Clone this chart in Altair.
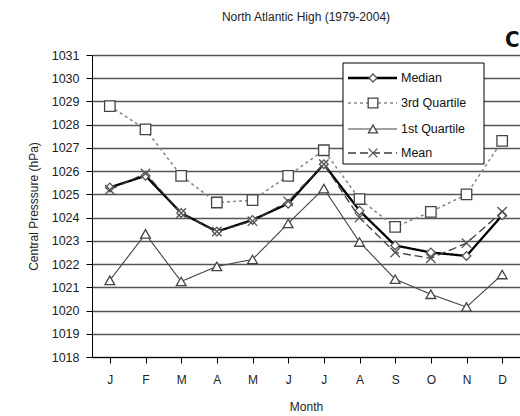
import altair as alt
import pandas as pd

months = ["J", "F", "M", "A", "M", "J", "J", "A", "S", "O", "N", "D"]
median = [1025.3, 1025.8, 1024.2, 1023.4, 1023.9, 1024.6, 1026.3, 1024.3, 1022.8, 1022.5, 1022.35, 1024.1]
q3 = [1028.8, 1027.8, 1025.8, 1024.65, 1024.75, 1025.8, 1026.9, 1024.8, 1023.6, 1024.25, 1025.0, 1027.3]
q1 = [1021.3, 1023.3, 1021.25, 1021.9, 1022.2, 1023.75, 1025.25, 1022.95, 1021.35, 1020.7, 1020.15, 1021.55]
mean = [1025.2, 1025.9, 1024.2, 1023.4, 1023.85, 1024.7, 1026.3, 1024.0, 1022.5, 1022.25, 1022.9, 1024.25]
series_names = ["Median", "3rd Quartile", "1st Quartile", "Mean"]
y_ticks = list(range(1018, 1032))
title_text = "North Atlantic High (1979-2004)"
panel_letter = "C"

FONT = "Liberation Sans"
W, H = 428, 302
XSHAPE = "M-1,-1L1,1M1,-1L-1,1"

styles = {
    "Median": dict(color="#000000", width=2.3, dash=[1, 0], shape="diamond", size=75, fill="white", mcolor="#555555"),
    "3rd Quartile": dict(color="#8a8a8a", width=1.6, dash=[3, 3], shape="square", size=110, fill="white", mcolor="#444444"),
    "1st Quartile": dict(color="#444444", width=1.1, dash=[1, 0], shape="triangle-up", size=95, fill="white", mcolor="#444444"),
    "Mean": dict(color="#3a3a3a", width=1.3, dash=[8, 4], shape=XSHAPE, size=90, fill="transparent", mcolor="#555555"),
}

rows = []
for name, vals in zip(series_names, [median, q3, q1, mean]):
    for i, v in enumerate(vals):
        rows.append({"m": i, "series": name, "value": v})
df = pd.DataFrame(rows)

label_arr = "[" + ",".join("'%s'" % m for m in months) + "]"
x_enc = alt.X(
    "m:O",
    scale=alt.Scale(paddingInner=0, paddingOuter=0),
    axis=alt.Axis(
        title="Month", bandPosition=0, labelAngle=0,
        labelExpr=label_arr + "[datum.value]", tickSize=6, tickColor="#000",
        domainColor="#000", grid=False, labelPadding=11, labelFontSize=12,
        labelColor="#222", labelFont=FONT, titleFont=FONT, titleFontSize=12,
        titleFontWeight="normal", titleColor="#222", titlePadding=16,
    ),
)
y_enc = alt.Y(
    "value:Q",
    scale=alt.Scale(domain=[1018, 1031], nice=False, zero=False),
    axis=alt.Axis(
        title="Central Presssure (hPa)", values=y_ticks, format="d", grid=True,
        gridColor="#555555", gridWidth=1.5, tickSize=6, tickColor="#000",
        domainColor="#000", labelPadding=7, labelFontSize=12.5, labelColor="#222",
        labelFont=FONT, titleFont=FONT, titleFontSize=12, titleFontWeight="normal",
        titleColor="#222", titlePadding=11,
    ),
)

layers = []
for name in series_names:
    s = styles[name]
    d = df[df.series == name]
    layers.append(
        alt.Chart(d).mark_line(color=s["color"], strokeWidth=s["width"], strokeDash=s["dash"])
        .encode(x=x_enc, y=y_enc)
    )
for name in series_names:
    s = styles[name]
    d = df[df.series == name]
    layers.append(
        alt.Chart(d).mark_point(shape=s["shape"], size=s["size"], filled=False, fill=s["fill"],
                                stroke=s["mcolor"], strokeWidth=1.3, opacity=1)
        .encode(x=x_enc, y=y_enc)
    )

# Legend (drawn in view pixel space)
one = pd.DataFrame({"a": [0]})
box = alt.Chart(one).mark_rect(fill="white", stroke="#000", strokeWidth=1).encode(
    x=alt.value(251), x2=alt.value(392), y=alt.value(8), y2=alt.value(109))
layers.append(box)
leg_y = [23, 48, 74, 98]
for name, yy in zip(series_names, leg_y):
    s = styles[name]
    ld = pd.DataFrame({"series": [name]})
    layers.append(alt.Chart(ld).mark_rule(color=s["color"], strokeWidth=s["width"], strokeDash=s["dash"]).encode(
        x=alt.value(256), x2=alt.value(305), y=alt.value(yy)))
    layers.append(alt.Chart(ld).mark_point(shape=s["shape"], size=s["size"] * 0.85, filled=False, fill=s["fill"],
                                           stroke=s["mcolor"], strokeWidth=1.3, opacity=1).encode(
        x=alt.value(281), y=alt.value(yy)))
    layers.append(alt.Chart(ld).mark_text(align="left", baseline="middle", font=FONT, fontSize=12.5, color="#111").encode(
        x=alt.value(309), y=alt.value(yy), text="series:N"))

# Title and panel letter
layers.append(alt.Chart(pd.DataFrame({"t": [title_text]})).mark_text(
    align="center", baseline="middle", font=FONT, fontSize=12, color="#222"
).encode(x=alt.value(W / 2), y=alt.value(-38), text="t:N"))
layers.append(alt.Chart(pd.DataFrame({"t": [panel_letter]})).mark_text(
    align="left", baseline="alphabetic", font="DejaVu Sans Condensed", fontWeight="bold", fontSize=22, color="#111"
).encode(x=alt.value(413), y=alt.value(-8), text="t:N"))

chart = alt.layer(*layers).properties(
    width=W, height=H,
    autosize=alt.AutoSizeParams(type="none"),
    padding={"left": 92, "top": 55, "right": 0, "bottom": 55},
).configure_view(stroke=None).configure(background="white")

chart.save("out.html", embed_options={"renderer": "svg", "actions": False})
